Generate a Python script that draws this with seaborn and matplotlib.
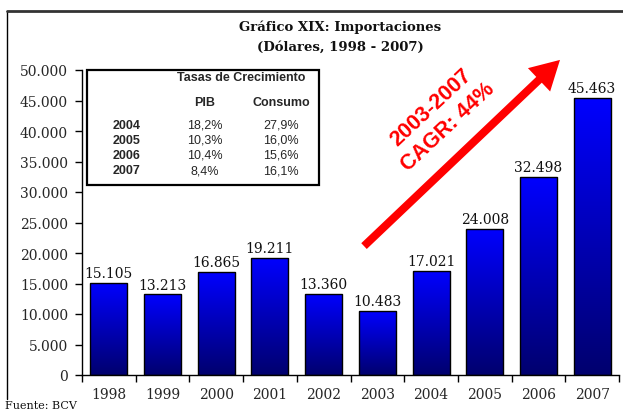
import numpy as np
import pandas as pd
import matplotlib
matplotlib.use("Agg")
import matplotlib.pyplot as plt
import seaborn as sns
from matplotlib.patches import Rectangle, FancyArrowPatch
from matplotlib.colors import LinearSegmentedColormap
from matplotlib import font_manager as fm

# ---- data ----
years = ['1998', '1999', '2000', '2001', '2002', '2003', '2004', '2005', '2006', '2007']
imports = [15105, 13213, 16865, 19211, 13360, 10483, 17021, 24008, 32498, 45463]
yticks = [0, 5000, 10000, 15000, 20000, 25000, 30000, 35000, 40000, 45000, 50000]
table_years = ['2004', '2005', '2006', '2007']
pib = ['18,2%', '10,3%', '10,4%', '8,4%']
consumo = ['27,9%', '16,0%', '15,6%', '16,1%']

W, H = 623, 414
def fx(px):
    return px / W
def fy(py):
    return 1 - py / H

sns.set_theme(style="white")
plt.rcParams['font.family'] = ['DejaVu Serif']

def find_font(name, fallback_family, weight):
    for f in fm.findSystemFonts():
        if f.split('/')[-1] == name:
            return fm.FontProperties(fname=f)
    return fm.FontProperties(family=fallback_family, weight=weight)

def sans(size, bold=False):
    fp = find_font('LiberationSans-Bold.ttf' if bold else 'LiberationSans-Regular.ttf',
                   'DejaVu Sans', 'bold' if bold else 'normal')
    fp = fp.copy()
    fp.set_size(size)
    return fp

fig = plt.figure(figsize=(W / 100, H / 100), dpi=100)
ax = fig.add_axes([fx(82), fy(376), fx(619) - fx(82), fy(71) - fy(376)])

df = pd.DataFrame({'year': years, 'value': imports})
sns.barplot(data=df, x='year', y='value', ax=ax, width=0.69,
            color='#0000ff', edgecolor='black', linewidth=1.0, saturation=1)

cmap = LinearSegmentedColormap.from_list('bl', ['#00006e', '#0000ff'])
grad = np.linspace(0, 1, 256).reshape(-1, 1)
for p in list(ax.patches):
    x, y = p.get_x(), p.get_y()
    w, h = p.get_width(), p.get_height()
    im = ax.imshow(grad, extent=[x, x + w, y, y + h], origin='lower',
                   aspect='auto', cmap=cmap, zorder=p.get_zorder() - 0.1)
    im.set_clip_path(p)
    p.set_facecolor('none')

for i, v in enumerate(imports):
    ax.annotate(f"{v:,}".replace(',', '.'), (i, v), xytext=(0, 2),
                textcoords='offset points', ha='center', va='bottom',
                fontsize=10, color='#111111')

ax.set_xlim(-0.5, 9.5)
ax.set_ylim(0, 50000)
ax.set_yticks(yticks)
ax.set_yticklabels([f"{t:,}".replace(',', '.') for t in yticks], fontsize=10)
ax.set_xticks(range(len(years)))
ax.set_xticklabels(years, fontsize=10)
ax.set_xticks(np.arange(-0.5, 10, 1), minor=True)
ax.tick_params(axis='x', which='major', length=0, pad=9)
ax.tick_params(axis='x', which='minor', length=5, width=1, color='black', direction='out', bottom=True)
ax.tick_params(axis='y', length=5, width=1, color='black', direction='out', left=True, pad=5)
ax.set_xlabel('')
ax.set_ylabel('')
for s in ['top', 'right']:
    ax.spines[s].set_visible(False)
for s in ['left', 'bottom']:
    ax.spines[s].set_color('black')
    ax.spines[s].set_linewidth(1)
ax.grid(False)

# Title
fig.text(fx(340), fy(27), 'Gráfico XIX: Importaciones', ha='center', va='center',
         fontsize=9.5, fontweight='bold', color='#111111')
fig.text(fx(340), fy(47), '(Dólares, 1998 - 2007)', ha='center', va='center',
         fontsize=9.5, fontweight='bold', color='#111111')

# Outer frame
fig.add_artist(plt.Line2D([fx(7), fx(7)], [fy(12), fy(400)], transform=fig.transFigure,
                          color='black', lw=1))
fig.add_artist(plt.Line2D([fx(7), 1.0], [fy(12), fy(12)], transform=fig.transFigure,
                          color='#333333', lw=2))

# Table box
fig.add_artist(Rectangle((fx(87), fy(186)), fx(319) - fx(87), fy(71) - fy(186),
                         transform=fig.transFigure, fill=True, facecolor='white',
                         edgecolor='black', lw=1.6, zorder=5))
fig.text(fx(241), fy(78), 'Tasas de Crecimiento', ha='center', va='center',
         fontproperties=sans(9, True), zorder=6)
fig.text(fx(205), fy(103), 'PIB', ha='center', va='center',
         fontproperties=sans(9, True), zorder=6)
fig.text(fx(281), fy(103), 'Consumo', ha='center', va='center',
         fontproperties=sans(9, True), zorder=6)
row_y = [126, 141, 156, 171]
for yr, a, b, ry in zip(table_years, pib, consumo, row_y):
    fig.text(fx(113), fy(ry), yr, ha='left', va='center',
             fontproperties=sans(9, True), zorder=6)
    fig.text(fx(205), fy(ry), a, ha='center', va='center',
             fontproperties=sans(9), zorder=6)
    fig.text(fx(281), fy(ry), b, ha='center', va='center',
             fontproperties=sans(9), zorder=6)

# Arrow and CAGR text
arrow = FancyArrowPatch((fx(362), fy(249)), (fx(562), fy(59)),
                        transform=fig.transFigure,
                        arrowstyle='simple,head_length=1.3,head_width=1.45,tail_width=0.36',
                        mutation_scale=16, color='red', lw=0, zorder=7)
fig.add_artist(arrow)
fig.text(fx(431), fy(108), '2003-2007', ha='center', va='center', rotation=43,
         rotation_mode='anchor', fontproperties=sans(15.5, True), color='red')
fig.text(fx(448), fy(127), 'CAGR: 44%', ha='center', va='center', rotation=43,
         rotation_mode='anchor', fontproperties=sans(15.5, True), color='red')

fig.text(fx(5), fy(406), 'Fuente: BCV', ha='left', va='center', fontsize=8, color='#111111')

fig.savefig('out.png', dpi=100)
